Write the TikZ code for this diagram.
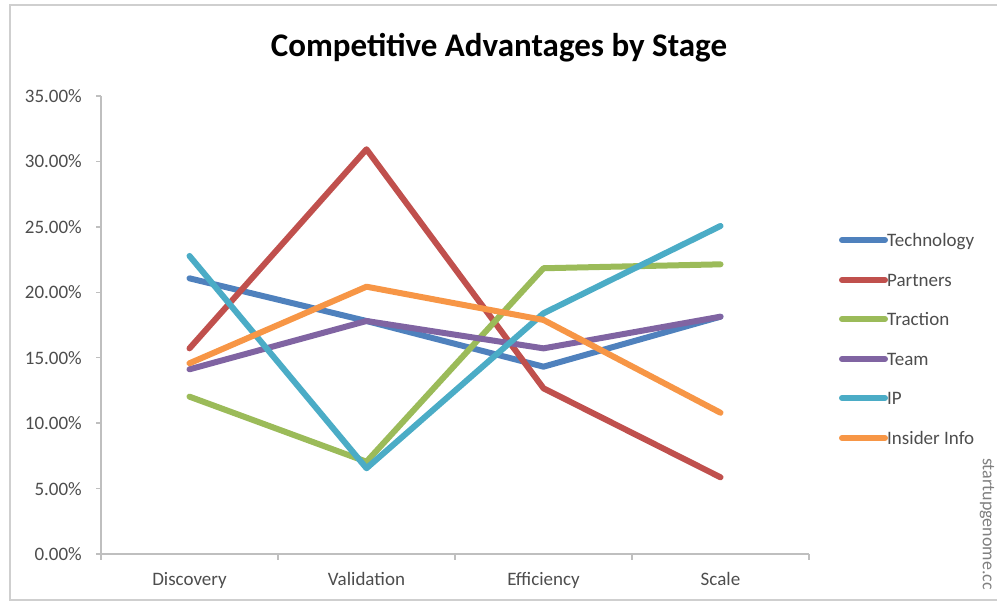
\documentclass[tikz,border=0pt]{standalone}
\usepackage{fontspec}
\setmainfont{Carlito}
\usetikzlibrary{positioning}

\definecolor{techblue}{HTML}{4F81BD}
\definecolor{partred}{HTML}{C0504D}
\definecolor{tracgreen}{HTML}{9BBB59}
\definecolor{teampurple}{HTML}{8064A2}
\definecolor{ipcyan}{HTML}{4BACC6}
\definecolor{insorange}{HTML}{F79646}
\definecolor{axisgray}{HTML}{BFBFBF}
\definecolor{framegray}{HTML}{CFCFCF}
\definecolor{labelgray}{HTML}{4D4D4D}

\begin{document}
\begin{tikzpicture}[x=1pt,y=-1pt,
		series/.style={line width=6pt,line cap=round,line join=round},
		axisline/.style={draw=axisgray,line width=1.5pt},
		ticklabel/.style={font=\fontsize{19}{19}\selectfont,text=labelgray,inner sep=0pt},
		legendlabel/.style={font=\fontsize{19}{19}\selectfont,text=labelgray,inner sep=0pt,anchor=base west}]
		\useasboundingbox (0,0) rectangle (997,602);
		\draw[framegray,line width=1.5pt] (1010,5) -- (10,5) -- (10,600) -- (1010,600);

		\node[font=\bfseries\fontsize{33}{33}\selectfont,anchor=base] (title) at (499,57) {Competitive Advantages by Stage};

		% axes
		\draw[axisline] (101,96) -- (101,554) -- (809,554);
		\draw[axisline] (96,96) -- (101,96);
		\draw[axisline] (96,161.4) -- (101,161.4);
		\draw[axisline] (96,226.9) -- (101,226.9);
		\draw[axisline] (96,292.3) -- (101,292.3);
		\draw[axisline] (96,357.7) -- (101,357.7);
		\draw[axisline] (96,423.1) -- (101,423.1);
		\draw[axisline] (96,488.6) -- (101,488.6);
		\draw[axisline] (96,554) -- (101,554);
		\draw[axisline] (101,554) -- (101,560);
		\draw[axisline] (278,554) -- (278,560);
		\draw[axisline] (455,554) -- (455,560);
		\draw[axisline] (632,554) -- (632,560);
		\draw[axisline] (809,554) -- (809,560);

		\node[ticklabel,anchor=base east] (y35) at (82,102.5) {35.00\%};
		\node[ticklabel,anchor=base east] (y30) at (82,167.9) {30.00\%};
		\node[ticklabel,anchor=base east] (y25) at (82,233.4) {25.00\%};
		\node[ticklabel,anchor=base east] (y20) at (82,298.8) {20.00\%};
		\node[ticklabel,anchor=base east] (y15) at (82,364.2) {15.00\%};
		\node[ticklabel,anchor=base east] (y10) at (82,429.6) {10.00\%};
		\node[ticklabel,anchor=base east] (y05) at (82,495.1) {5.00\%};
		\node[ticklabel,anchor=base east] (y00) at (82,560.5) {0.00\%};

		\node[ticklabel,anchor=base] (discovery) at (189.5,585) {Discovery};
		\node[ticklabel,anchor=base] (validation) at (366.5,585) {Validation};
		\node[ticklabel,anchor=base] (efficiency) at (543.5,585) {Efficiency};
		\node[ticklabel,anchor=base] (scale) at (720.5,585) {Scale};

		% data: x = stage, y = percent
		\begin{scope}[shift={(189.5,554)},x=177pt,y=13.09pt]
			\draw[series,techblue] (0,21.06) -- (1,17.80) -- (2,14.31) -- (3,18.13);
			\draw[series,partred] (0,15.71) -- (1,30.92) -- (2,12.66) -- (3,5.86);
			\draw[series,tracgreen] (0,12.02) -- (1,7.05) -- (2,21.83) -- (3,22.13);
			\draw[series,teampurple] (0,14.11) -- (1,17.80) -- (2,15.71) -- (3,18.13);
			\draw[series,ipcyan] (0,22.77) -- (1,6.55) -- (2,18.39) -- (3,25.06);
			\draw[series,insorange] (0,14.57) -- (1,20.42) -- (2,17.88) -- (3,10.79);
		\end{scope}

		% legend
		\draw[series,techblue] (842,240) -- (885,240);
		\draw[series,partred] (842,280) -- (885,280);
		\draw[series,tracgreen] (842,319) -- (885,319);
		\draw[series,teampurple] (842,359) -- (885,359);
		\draw[series,ipcyan] (842,398) -- (885,398);
		\draw[series,insorange] (842,438) -- (885,438);
		\node[legendlabel] (legtech) at (887,246) {Technology};
		\node[legendlabel] (legpart) at (887,286) {Partners};
		\node[legendlabel] (legtrac) at (887,325) {Traction};
		\node[legendlabel] (legteam) at (887,365) {Team};
		\node[legendlabel] (legip) at (887,404) {IP};
		\node[legendlabel] (legins) at (887,444) {Insider Info};

		\node[font=\fontsize{18}{18}\selectfont,text=gray,rotate=-90,inner sep=0pt] (source) at (987,524) {startupgenome.cc};
	\end{tikzpicture}
\end{document}
